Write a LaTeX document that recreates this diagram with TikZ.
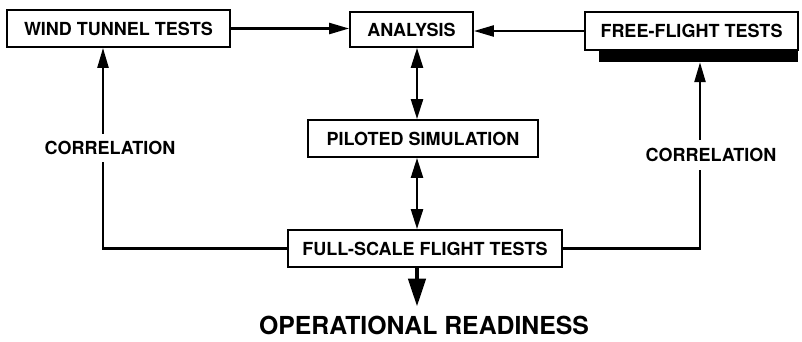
\documentclass[tikz,border=0pt]{standalone}
\usepackage{fontspec}
\setmainfont{TeX Gyre Heros}
\usetikzlibrary{arrows.meta}
\begin{document}
\begin{tikzpicture}[x=1pt,y=-1pt,
    box/.style={draw,line width=1.8pt,inner sep=0pt,text depth=0pt,
      font=\fontsize{18}{20}\selectfont\bfseries},
    corr/.style={fill=white,inner xsep=0pt,inner ysep=7pt,text depth=0pt,
      font=\fontsize{18}{20}\selectfont\bfseries},
    link/.style={line width=2.4pt,-{Triangle[length=20pt,width=11pt]}},
    both/.style={line width=2.4pt,
      {Triangle[length=20pt,width=12pt]}-{Triangle[length=20pt,width=12pt]}},
    big/.style={line width=4.5pt,-{Triangle[length=28pt,width=17pt]}}]
  \useasboundingbox (0,0) rectangle (802,341);
  \draw
    (118.5,28.5) node[box,minimum width=223pt,minimum height=37pt] (wind){WIND TUNNEL TESTS}
    (411.5,29.5) node[box,minimum width=123pt,minimum height=35pt] (analysis){ANALYSIS}
    (698.5,56) node[fill=black,inner sep=0pt,minimum width=199pt,minimum height=12pt] (shadow){}
    (691.5,31) node[box,minimum width=213pt,minimum height=38pt] (free){FREE-FLIGHT TESTS}
    (423,138.5) node[box,minimum width=230pt,minimum height=37pt] (piloted){PILOTED SIMULATION}
    (425,248.5) node[box,minimum width=274pt,minimum height=37pt] (full){FULL-SCALE FLIGHT TESTS}
    (424,325) node[inner sep=0pt,text depth=0pt,font=\fontsize{24.8}{28}\selectfont\bfseries] (ops){OPERATIONAL READINESS};
  \coordinate (axis) at (417,0);
  \coordinate (lline) at (103,0);
  \coordinate (rline) at (700,0);
  \begin{scope}
    \draw[link] (wind.east) -- (wind.east -| analysis.west);
    \draw[link] (free.west) -- (free.west -| analysis.east);
    \draw[both] (analysis.south -| axis) -- (piloted.north -| axis);
    \draw[both] (piloted.south -| axis) -- (full.north -| axis);
    \draw[big,shorten >=9pt] (full.south -| axis) -- (ops.north -| axis);
    \draw[link] (full.west) -| (lline |- wind.south);
    \draw[link] (full.east) -| (rline |- shadow.south);
  \end{scope}
  \node[corr] (lcorr) at (110,148) {CORRELATION};
  \node[corr,inner ysep=8pt] (rcorr) at (711,155) {CORRELATION};
\end{tikzpicture}
\end{document}
